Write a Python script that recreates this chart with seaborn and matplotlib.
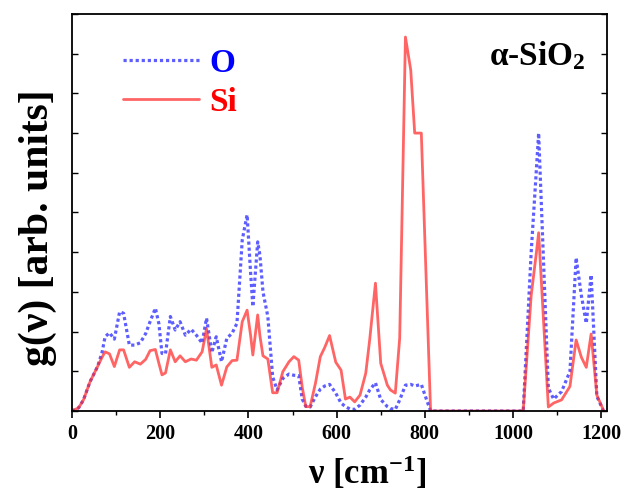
import numpy as np
import pandas as pd
import matplotlib
matplotlib.use("Agg")
import matplotlib.pyplot as plt
import seaborn as sns
from matplotlib.ticker import MultipleLocator

# frequency grid [cm^-1]
nu = [0, 15, 26, 41, 58, 68, 75, 85, 96, 108, 117, 130, 142, 155, 167, 177, 189, 197,
      204, 212, 223, 234, 245, 257, 270, 282, 295, 305, 317, 327, 339, 351, 363, 374,
      386, 397, 405, 410, 421, 426, 433, 444, 455, 465, 478, 492, 503, 514, 522, 530,
      540, 552, 563, 573, 584, 598, 610, 620, 630, 641, 653, 666, 675, 688, 700, 715,
      722, 733, 743, 756, 768, 777, 792, 804, 813, 1023, 1041, 1053, 1058, 1080, 1092,
      1110, 1129, 1143, 1155, 1166, 1177, 1190, 1205]

g_O = [0.0, 0.08, 0.28, 0.74, 1.12, 1.47, 1.87, 1.97, 1.81, 2.5, 2.46, 1.66, 1.66, 1.72,
       1.95, 2.25, 2.59, 2.2, 1.45, 1.44, 2.38, 2.04, 2.25, 1.91, 2.06, 1.91, 1.71, 2.34,
       1.47, 1.87, 1.24, 1.83, 1.96, 2.21, 4.31, 4.94, 3.47, 2.63, 4.26, 3.93, 3.0, 2.38,
       0.86, 0.53, 0.82, 0.93, 0.9, 0.89, 0.3, 0.12, 0.1, 0.36, 0.55, 0.63, 0.67, 0.45,
       0.2, 0.11, 0.05, 0.04, 0.15, 0.35, 0.53, 0.71, 0.29, 0.11, 0.06, 0.04, 0.28, 0.65,
       0.67, 0.63, 0.67, 0.28, 0.0, 0.0, 3.98, 6.1, 7.0, 0.58, 0.3, 0.49, 1.0, 3.86, 2.9,
       2.21, 3.43, 0.37, 0.0]

g_Si = [0.0, 0.08, 0.28, 0.74, 1.12, 1.35, 1.49, 1.44, 1.12, 1.54, 1.54, 1.1, 1.24, 1.18,
        1.3, 1.52, 1.55, 1.2, 0.91, 0.96, 1.54, 1.24, 1.39, 1.24, 1.31, 1.28, 1.49, 2.07,
        1.1, 1.16, 0.65, 1.11, 1.27, 1.28, 2.25, 2.54, 1.9, 1.41, 2.42, 1.9, 1.39, 1.31,
        0.46, 0.46, 0.99, 1.24, 1.37, 1.28, 0.6, 0.11, 0.11, 0.7, 1.37, 1.6, 1.9, 1.23,
        1.03, 0.3, 0.35, 0.23, 0.4, 0.95, 1.8, 3.22, 1.2, 0.65, 0.53, 0.45, 1.84, 9.42,
        8.59, 7.0, 7.0, 3.0, 0.0, 0.0, 2.9, 4.0, 4.49, 0.1, 0.2, 0.28, 0.62, 1.79, 1.35,
        1.1, 1.94, 0.4, 0.02]

xticks = [0, 200, 400, 600, 800, 1000, 1200]

sns.set_style("ticks")
plt.rcParams["font.family"] = ["Liberation Serif", "DejaVu Serif"]
plt.rcParams["font.weight"] = "bold"
plt.rcParams["mathtext.default"] = "regular"
for k in ["text.color", "axes.labelcolor", "xtick.color", "ytick.color",
          "axes.edgecolor"]:
    plt.rcParams[k] = "black"

df = pd.DataFrame({"nu": nu, "O": g_O, "Si": g_Si})

fig = plt.figure(figsize=(6.22, 4.94), dpi=100)
ax = fig.add_axes([72 / 622, 1 - 411 / 494, 535 / 622, 397 / 494])

sns.lineplot(data=df, x="nu", y="O", ax=ax, color="#1a1aff", alpha=0.7, lw=2.3,
             linestyle=(0, (1, 0.9)), estimator=None, sort=False, label="O")
sns.lineplot(data=df, x="nu", y="Si", ax=ax, color="#ff2a2a", alpha=0.72, lw=2.0,
             estimator=None, sort=False, label="Si")

ax.set_xlim(0, 1213)
ax.set_ylim(0, 10)
ax.set_xticks(xticks)
ax.xaxis.set_minor_locator(MultipleLocator(100))
ax.set_yticks(np.arange(0, 11, 1))
ax.set_yticklabels([])
ax.tick_params(axis="x", which="major", direction="out", length=5, width=1.2,
               labelsize=14.5, pad=4, colors="black")
ax.tick_params(axis="x", which="minor", direction="out", length=3, width=1.0)
ax.tick_params(axis="y", which="major", direction="in", length=4, width=1.0,
               left=True, right=True)
for lab in ax.get_xticklabels():
    lab.set_fontweight("bold")
for sp in ax.spines.values():
    sp.set_visible(True)
    sp.set_linewidth(1.3)
    sp.set_color("black")

ax.set_xlabel("ν [cm$^{-1}$]", fontsize=25, fontweight="bold", color="black")
ax.set_ylabel("g(ν) [arb. units]", fontsize=30, fontweight="bold", color="black")
ax.xaxis.set_label_coords(0.551, -0.11)
ax.yaxis.set_label_coords(-0.028, 0.463)

ax.text(0.96, 0.895, "α-SiO$_2$", transform=ax.transAxes, ha="right", va="center",
        fontsize=24, fontweight="bold", color="black")

leg = ax.legend(loc="upper left", bbox_to_anchor=(0.095, 0.915), frameon=False,
                fontsize=24, handlelength=2.3, handletextpad=0.3, labelspacing=0.25,
                borderaxespad=0, borderpad=0)
for t, c in zip(leg.get_texts(), ["#0000ff", "#ff0000"]):
    t.set_color(c)
    t.set_fontweight("bold")

fig.savefig("out.png", dpi=100)
